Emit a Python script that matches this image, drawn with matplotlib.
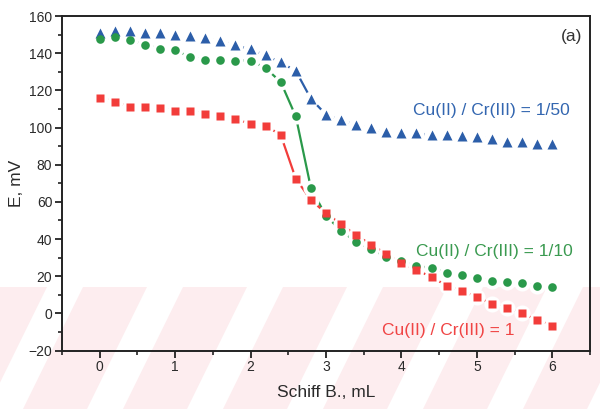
import matplotlib
matplotlib.use("Agg")
import matplotlib.pyplot as plt
from matplotlib.patches import Polygon
from matplotlib.ticker import MultipleLocator

plt.rcParams["font.family"] = ["Liberation Sans", "DejaVu Sans"]

# Volume of Schiff base added (mL)
volume = [0.0, 0.2, 0.4, 0.6, 0.8, 1.0, 1.2, 1.4, 1.6, 1.8, 2.0,
          2.2, 2.4, 2.6, 2.8, 3.0, 3.2, 3.4, 3.6, 3.8, 4.0,
          4.2, 4.4, 4.6, 4.8, 5.0, 5.2, 5.4, 5.6, 5.8, 6.0]

# Electrode potential E (mV) for each Cu(II)/Cr(III) ratio
e_ratio_50 = [151, 152, 152, 151, 151, 150, 149, 148, 146.5, 144.5, 142,
              139, 135, 130.5, 115.5, 107, 104, 101.5, 99.5, 97.5, 97,
              97, 96, 96, 95.5, 95, 94, 92, 92, 91, 91]
e_ratio_10 = [147.5, 148.5, 147, 144.5, 142.5, 141.5, 138, 136.5, 136.5, 136, 136,
              132, 124.5, 106, 67.5, 52.5, 44.5, 38.5, 34.5, 30.5, 28,
              25.5, 24.5, 22, 20.5, 19, 17.5, 17, 16.5, 15, 14]
e_ratio_1 = [116, 114, 111, 111, 110.5, 109, 109, 107.5, 106, 104.5, 102,
             101, 96, 72.5, 61, 54, 48, 42, 37, 32, 27,
             23.5, 19.5, 15, 12, 9, 5, 3, 0, -3.5, -6.5]

labels = ["Cu(II) / Cr(III) = 1/50", "Cu(II) / Cr(III) = 1/10", "Cu(II) / Cr(III) = 1"]

W, H = 600, 409
fig = plt.figure(figsize=(6, 4.09), dpi=100)
fig.patch.set_facecolor("white")

# light pink striped band along the lower part of the sheet
band_h = 122
period, pink_w, slant = 100, 64, 60
for k in range(-2, 8):
    xt = 183 + k * period
    pts = [(xt - slant, 0), (xt - slant + pink_w, 0),
           (xt + pink_w, band_h), (xt, band_h)]
    pts = [(px / W, py / H) for px, py in pts]
    fig.add_artist(Polygon(pts, closed=True, transform=fig.transFigure,
                           facecolor="#fdedef", edgecolor="none", zorder=-5))

ax = fig.add_axes([0.1033, 0.1428, 0.88, 0.818])
ax.patch.set_alpha(0)

series = [
    (e_ratio_50, "#2c5ea9", "^", 7.2),
    (e_ratio_10, "#2a994a", "o", 6.2),
    (e_ratio_1, "#f23d3a", "s", 5.4),
]

# connecting lines, then white discs to open a gap round every symbol,
# then the coloured symbols on top
for values, color, marker, size in series:
    ax.plot(volume, values, color=color, linewidth=1.6, zorder=2)
for values, color, marker, size in series:
    ax.plot(volume, values, linestyle="none", marker="o", markersize=11.6,
            markerfacecolor="white", markeredgecolor="none", zorder=3)
for values, color, marker, size in series:
    ax.plot(volume, values, linestyle="none", marker=marker, markersize=size,
            markerfacecolor=color, markeredgecolor="none", zorder=4)

ax.text(4.15, 109, labels[0], color="#3366b0", fontsize=12.5, va="center", ha="left")
ax.text(4.19, 33.5, labels[1], color="#3a9a50", fontsize=12.5, va="center", ha="left")
ax.text(3.74, -9.2, labels[2], color="#f04444", fontsize=12.5, va="center", ha="left")
ax.text(6.25, 149, "(a)", color="#333333", fontsize=12.5, va="center", ha="center")

ax.set_xlim(-0.5, 6.5)
ax.set_ylim(-20, 160)
ax.xaxis.set_major_locator(MultipleLocator(1))
ax.xaxis.set_minor_locator(MultipleLocator(0.5))
ax.yaxis.set_major_locator(MultipleLocator(20))
ax.yaxis.set_minor_locator(MultipleLocator(10))

for s in ax.spines.values():
    s.set_color("#222222")
    s.set_linewidth(1.4)

ax.tick_params(which="major", direction="out", length=5, width=1.3,
               color="#222222", labelsize=10, labelcolor="#2a2a2a", pad=2)
ax.tick_params(which="minor", direction="out", length=3, width=1.2, color="#222222")

ax.set_xlabel("Schiff B., mL", fontsize=12.5, color="#2a2a2a", labelpad=8)
ax.set_ylabel("E, mV", fontsize=12.5, color="#2a2a2a", labelpad=3)

fig.savefig("out.png", dpi=100, facecolor="white")
